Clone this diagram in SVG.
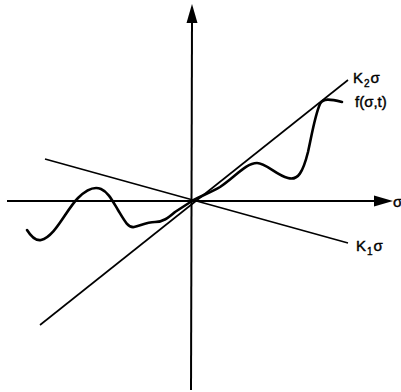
<svg xmlns="http://www.w3.org/2000/svg" width="401" height="392" viewBox="0 0 401 392">
<style>
.ax{stroke:#000;stroke-width:2;fill:none}
.ln{stroke:#000;stroke-width:1.6;fill:none}
.cv{stroke:#000;stroke-width:2.6;fill:none;stroke-linecap:round;stroke-linejoin:round}
.lb{font-family:"Liberation Sans",Arial,sans-serif;font-size:15px;fill:#000;stroke:#000;stroke-width:0.4}
.sb{font-size:10px}
</style>
<rect width="401" height="392" fill="#fff"/>
<g id="axes">
<line class="ax" x1="7" y1="201" x2="378" y2="201"/>
<polygon points="374,195.5 393,201 374,206.5" fill="#000"/>
<line class="ax" x1="192" y1="20" x2="191" y2="390"/>
<polygon points="186.5,23 192,4 197.5,23" fill="#000"/>
</g>
<g id="connectors">
<line class="ln" x1="40" y1="325" x2="348" y2="80"/>
<line class="ln" x1="45" y1="159" x2="348" y2="243"/>
</g>
<g id="curve">
<path class="cv" d="M27,230 C32,238 36,241 41,240 C55,237 66,210 78,198 C86,190 94,186 101,189 C108,192 112,200 118,210 C124,220 128,228 134,227 C140,226 146,222 155,222 C163,222 168,218 175,212 L192,201 C200,196 210,193 220,187 C235,177 246,163 257,163 C266,163 276,175 288,178 C298,181 303,172 308,152 C312,134 315,115 320,104 C323,98 330,99 342,102"/>
</g>
<g id="labels">
<text class="lb" x="353" y="83" letter-spacing="1">K<tspan class="sb" dy="4">2</tspan><tspan dy="-4">σ</tspan></text>
<text class="lb" x="355" y="107">f(σ,t)</text>
<text class="lb" x="356" y="251" letter-spacing="1">K<tspan class="sb" dy="4">1</tspan><tspan dy="-4">σ</tspan></text>
<text class="lb" x="393" y="207">σ</text>
</g>
</svg>
